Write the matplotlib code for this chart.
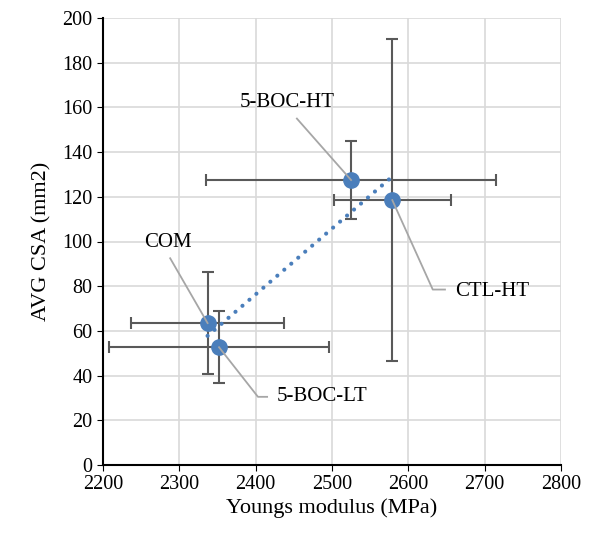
import matplotlib.pyplot as plt
import numpy as np

plt.rcParams['font.family'] = ['Liberation Serif', 'DejaVu Serif']

names = ["5-BOC-HT", "CTL-HT", "COM", "5-BOC-LT"]
modulus = [2525, 2579, 2337, 2352]
modulus_err = [190, 77, 100, 144]
csa = [127.5, 118.5, 63.5, 52.7]
csa_err = [17.5, 72, 23, 16]

# label text position and elbow of the leader line (data coords)
label_pos = [(2441, 162), (2661, 77.5), (2285, 99.5), (2428, 30.5)]
elbow = [(2454, 155), (2632, 78.5), (2288, 92.5), (2403, 30.5)]
label_ha = ["center", "left", "center", "left"]

blue = "#4a7ebb"
grey = "#595959"

fig = plt.figure(figsize=(5.96, 5.46), dpi=100)
ax = fig.add_axes([103 / 596, 1 - 465 / 546, 458 / 596, 447 / 546])

ax.errorbar(modulus, csa, xerr=modulus_err, yerr=csa_err, fmt="none",
            ecolor=grey, elinewidth=1.5, capsize=4.5, capthick=1.5, zorder=3)

# linear trendline
slope, icpt = np.polyfit(modulus, csa, 1)
xt = np.array([min(modulus), max(modulus)])
ax.plot(xt, slope * xt + icpt, linestyle=(0, (0.01, 2.2)), dash_capstyle="round",
        color=blue, lw=3, zorder=4)

ax.plot(modulus, csa, "o", color=blue, markersize=11, zorder=5)

for i, name in enumerate(names):
    lx, ly = label_pos[i]
    ex, ey = elbow[i]
    if label_ha[i] == "left":
        ax.plot([modulus[i], ex, lx - 13], [csa[i], ey, ey], color="#a6a6a6", lw=1.3, zorder=6)
        ax.text(lx, ly, name, ha="left", va="center", fontsize=15)
    else:
        ax.plot([modulus[i], ex], [csa[i], ey], color="#a6a6a6", lw=1.3, zorder=6)
        ax.text(lx, ly, name, ha="center", va="center", fontsize=15)

ax.set_xlim(2200, 2800)
ax.set_ylim(0, 200)
ax.set_xticks(np.arange(2200, 2801, 100))
ax.set_yticks(np.arange(0, 201, 20))
ax.grid(True, color="#d9d9d9", lw=1.2)
ax.set_axisbelow(True)
for s in ["top", "right"]:
    ax.spines[s].set_visible(False)
for s in ["left", "bottom"]:
    ax.spines[s].set_linewidth(1.5)
ax.tick_params(labelsize=14.5, length=4)
ax.set_xlabel("Youngs modulus (MPa)", fontsize=16, labelpad=3)
ax.set_ylabel("AVG CSA (mm2)", fontsize=16, labelpad=8)

fig.savefig("out.png", dpi=100)
